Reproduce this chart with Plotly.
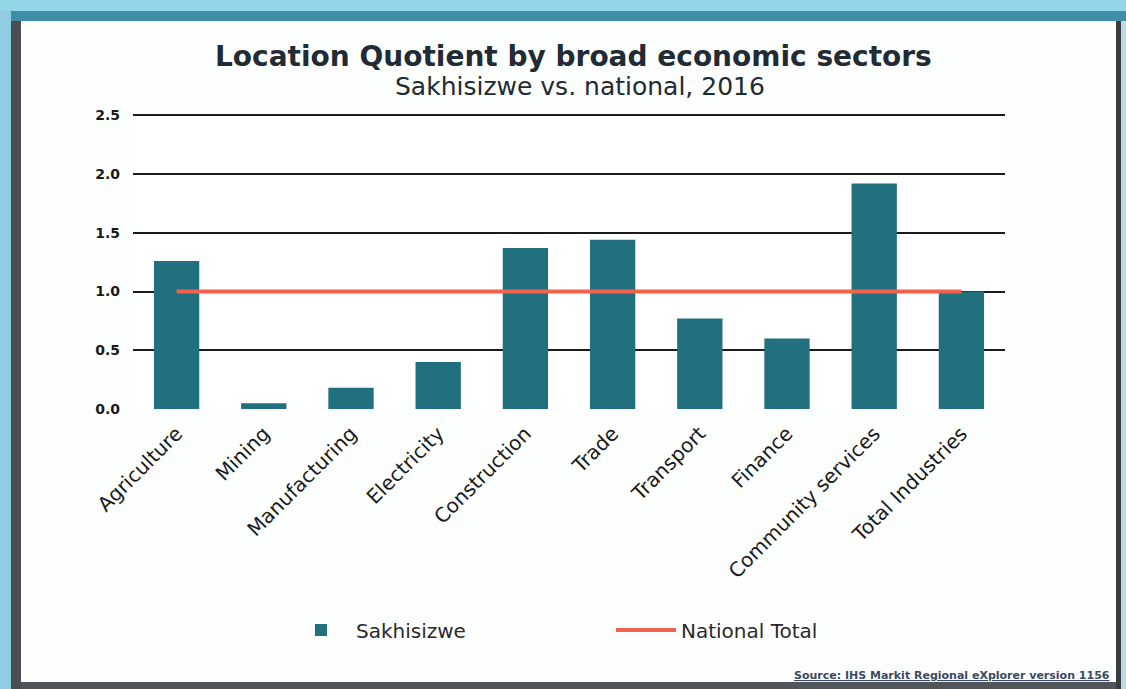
import plotly.graph_objects as go

# Location quotient per broad sector, Sakhisizwe vs. national (2016)
sectors = ["Agriculture", "Mining", "Manufacturing", "Electricity", "Construction",
           "Trade", "Transport", "Finance", "Community services", "Total Industries"]
sakhisizwe_lq = [1.26, 0.05, 0.18, 0.40, 1.37, 1.44, 0.77, 0.60, 1.92, 1.00]
national_total = [1.0] * len(sectors)
y_ticks = [0.0, 0.5, 1.0, 1.5, 2.0, 2.5]

W, H = 1126, 689
L, R, T, B = 133, 121, 113, 280
pw, ph = W - L - R, H - T - B


def px_x(x):
    return (x - L) / pw


def px_y(y):
    return (H - B - y) / ph


fig = go.Figure()
fig.add_trace(go.Bar(
    x=sectors, y=sakhisizwe_lq, name="Sakhisizwe",
    marker=dict(color="#22707f", line=dict(width=0)),
    width=0.52,
))
fig.add_trace(go.Scatter(
    x=sectors, y=national_total, name="National Total", mode="lines",
    line=dict(color="#f0624d", width=4),
))

shapes = [
    # window frame: light blue band on top and left, dark border
    dict(type="rect", xref="paper", yref="paper", x0=px_x(0), x1=px_x(W), y0=px_y(0), y1=px_y(11),
         fillcolor="#93d6e8", line=dict(width=0), layer="above"),
    dict(type="rect", xref="paper", yref="paper", x0=px_x(0), x1=px_x(W), y0=px_y(11), y1=px_y(21),
         fillcolor="#3d8ea6", line=dict(width=0), layer="above"),
    dict(type="rect", xref="paper", yref="paper", x0=px_x(0), x1=px_x(11), y0=px_y(11), y1=px_y(H),
         fillcolor="#8fcde3", line=dict(width=0), layer="above"),
    dict(type="rect", xref="paper", yref="paper", x0=px_x(11), x1=px_x(21), y0=px_y(21), y1=px_y(H),
         fillcolor="#4a4e52", line=dict(width=0), layer="above"),
    dict(type="rect", xref="paper", yref="paper", x0=px_x(21), x1=px_x(1116), y0=px_y(682), y1=px_y(H),
         fillcolor="#4f5558", line=dict(width=0), layer="above"),
    dict(type="rect", xref="paper", yref="paper", x0=px_x(1116), x1=px_x(1121), y0=px_y(21), y1=px_y(H),
         fillcolor="#3a3d40", line=dict(width=0), layer="above"),
    dict(type="rect", xref="paper", yref="paper", x0=px_x(1121), x1=px_x(W), y0=px_y(21), y1=px_y(H),
         fillcolor="#b9dbe6", line=dict(width=0), layer="above"),
]

annotations = [
    dict(text="<b>Location Quotient by broad economic sectors</b>", xref="paper", yref="paper",
         x=px_x(573), y=px_y(57), xanchor="center", yanchor="middle", showarrow=False,
         font=dict(family="DejaVu Sans", size=28, color="#222a33")),
    dict(text="Sakhisizwe vs. national, 2016", xref="paper", yref="paper",
         x=px_x(580), y=px_y(87), xanchor="center", yanchor="middle", showarrow=False,
         font=dict(family="DejaVu Sans", size=25, color="#222a33")),
    dict(text="<u><b>Source: IHS Markit Regional eXplorer version 1156</b></u>", xref="paper", yref="paper",
         x=px_x(1112), y=px_y(675), xanchor="right", yanchor="middle", showarrow=False,
         font=dict(family="DejaVu Sans", size=11, color="#3b4a63")),
]

fig.update_layout(
    width=W, height=H,
    margin=dict(l=L, r=R, t=T, b=B, pad=0),
    paper_bgcolor="#fdfefe", plot_bgcolor="#ffffff",
    font=dict(family="DejaVu Sans", color="#1c1c1c"),
    showlegend=True,
    legend=dict(orientation="h", x=px_x(286), y=px_y(630), xanchor="left", yanchor="middle",
                entrywidth=250, entrywidthmode="pixels",
                font=dict(family="DejaVu Sans", size=20, color="#2a2a2a"),
                bgcolor="rgba(0,0,0,0)", itemwidth=60),
    shapes=shapes,
    annotations=annotations,
    xaxis=dict(tickangle=-45, tickfont=dict(family="DejaVu Sans", size=20, color="#1a1a1a"),
               showgrid=False, showline=False, ticks="", range=[-0.5, len(sectors) - 0.5],
               ticklabelstandoff=8),
    yaxis=dict(range=[0, 2.52], tickvals=y_ticks, ticktext=[f"<b>{v:.1f}</b>" for v in y_ticks],
               showgrid=True, gridcolor="#1b1b1b", gridwidth=1.5,
               zeroline=False, showline=False, ticks="",
               tickfont=dict(family="DejaVu Sans", size=14, color="#1a1a1a"), ticklabelstandoff=12),
)

fig.write_html("out.html")
